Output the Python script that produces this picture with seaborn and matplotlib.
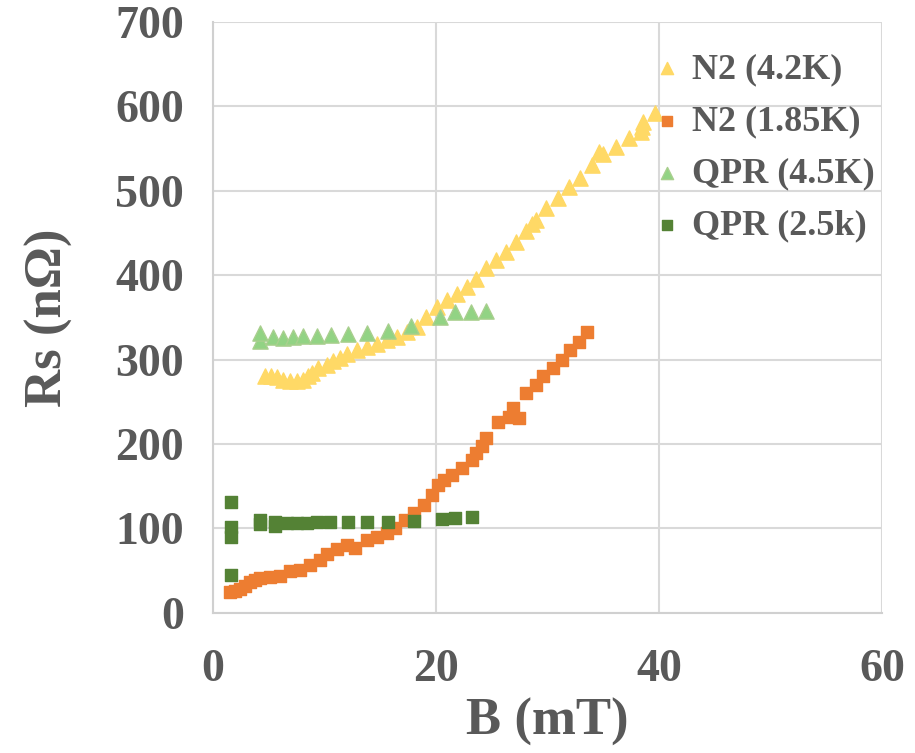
import numpy as np
import pandas as pd
import matplotlib
matplotlib.use("Agg")
import matplotlib.pyplot as plt
import seaborn as sns

# N2 (4.2K)
n2_42_B = [4.7, 5.2, 5.7, 6.3, 6.9, 7.5, 8.1, 8.5, 8.9, 9.4, 10.2, 10.8, 11.4, 12.0, 12.9,
           13.8, 14.7, 15.6, 16.5, 17.4, 18.3, 19.1, 20.1, 21.0, 21.9, 22.8, 23.6, 24.5,
           25.4, 26.3, 27.2, 28.1, 28.6, 29.0, 29.9, 30.9, 31.9, 32.9, 34.0, 34.6, 35.0,
           36.1, 37.3, 38.4, 38.5, 38.6, 39.6]
n2_42_R = [281, 280, 279, 276, 275, 275, 276, 280, 284, 290, 294, 298, 302, 306, 311,
           315, 319, 323, 327, 333, 339, 350, 362, 370, 378, 386, 396, 408,
           418, 428, 439, 452, 461, 465, 479, 491, 505, 515, 530, 546, 544,
           552, 562, 570, 575, 581, 592]

# N2 (1.85K)
n2_185_B = [1.5, 2.0, 2.4, 2.9, 3.3, 3.8, 4.2, 5.1, 6.0, 6.9, 7.8, 8.7, 9.6, 10.2, 11.1,
            12.0, 12.7, 13.8, 14.7, 15.6, 16.3, 17.2, 18.0, 18.9, 19.6, 20.2, 20.7, 21.4,
            22.3, 23.2, 23.6, 24.1, 24.5, 25.6, 26.5, 26.9, 27.4, 28.1, 29.0, 29.6, 30.5,
            31.3, 32.0, 32.8, 33.5]
n2_185_R = [25, 26, 28, 32, 36, 39, 41, 42, 44, 49, 51, 57, 63, 70, 76,
            80, 77, 86, 90, 94, 100, 110, 118, 128, 139, 151, 157, 163,
            171, 181, 189, 197, 207, 226, 232, 242, 231, 260, 270, 280, 290,
            299, 311, 321, 333]

# QPR (4.5K)
qpr_45_B = [4.2, 4.2, 5.4, 6.3, 7.2, 8.1, 9.3, 10.6, 12.1, 13.8, 15.7, 17.8, 20.4, 21.7, 23.1, 24.5]
qpr_45_R = [322, 331, 327, 326, 327, 328, 328, 329, 330, 331, 334, 340, 350, 356, 356, 357]

# QPR (2.5k)
qpr_25_B = [1.6, 1.6, 1.6, 1.6, 4.2, 4.2, 5.6, 5.6, 6.6, 7.5, 8.4, 9.3, 10.5, 12.1, 13.8, 15.7, 18.0, 20.5, 21.7, 23.2]
qpr_25_R = [131, 102, 90, 45, 110, 105, 108, 103, 106, 106, 106, 107, 108, 108, 108, 108, 109, 111, 112, 114]

labels = ["N2 (4.2K)", "N2 (1.85K)", "QPR (4.5K)", "QPR (2.5k)"]
x_ticks = [0, 20, 40, 60]
y_ticks = [0, 100, 200, 300, 400, 500, 600, 700]

frames = []
for lab, b, r in zip(labels, [n2_42_B, n2_185_B, qpr_45_B, qpr_25_B],
                     [n2_42_R, n2_185_R, qpr_45_R, qpr_25_R]):
    frames.append(pd.DataFrame({"B": b, "Rs": r, "series": lab}))
df = pd.concat(frames, ignore_index=True)

colors = {"N2 (4.2K)": "#FFD966", "N2 (1.85K)": "#ED7D31",
          "QPR (4.5K)": "#92D384", "QPR (2.5k)": "#548235"}
edges = {"N2 (4.2K)": "#FFD966", "N2 (1.85K)": "#ED7D31",
         "QPR (4.5K)": "#A9CF8E", "QPR (2.5k)": "#548235"}
markers = {"N2 (4.2K)": "^", "N2 (1.85K)": "s", "QPR (4.5K)": "^", "QPR (2.5k)": "s"}
sizes = {"N2 (4.2K)": 120, "N2 (1.85K)": 75, "QPR (4.5K)": 120, "QPR (2.5k)": 75}

sns.set_style("white")
plt.rcParams['font.family'] = ['Liberation Serif', 'DejaVu Serif']

fig = plt.figure(figsize=(9.15, 7.53), dpi=100)
ax = fig.add_axes([0.2328, 0.1863, 0.964 - 0.2328, 0.9708 - 0.1863])

for lab in labels:
    sub = df[df["series"] == lab]
    sns.scatterplot(data=sub, x="B", y="Rs", ax=ax, color=colors[lab],
                    marker=markers[lab], s=sizes[lab], edgecolor=edges[lab],
                    linewidth=1.0, label=lab, zorder=3)

ax.set_xlim(0, 60)
ax.set_ylim(0, 700)
ax.set_xticks(x_ticks)
ax.set_yticks(y_ticks)
ax.grid(True, color="#D9D9D9", linewidth=1.5, zorder=0)
ax.set_axisbelow(True)
for sp in ["top", "right"]:
    ax.spines[sp].set_visible(False)
for sp in ["left", "bottom"]:
    ax.spines[sp].set_color("#D0D0D0")
    ax.spines[sp].set_linewidth(1.5)

tc = "#595959"
ax.tick_params(axis="both", length=0, labelsize=33, labelcolor=tc)
ax.tick_params(axis="x", pad=26)
ax.tick_params(axis="y", pad=21)
for t in ax.get_xticklabels() + ax.get_yticklabels():
    t.set_fontweight("bold")
ax.set_xlabel("B (mT)", fontsize=38, fontweight="bold", color=tc, labelpad=5)
ax.set_ylabel("Rs (n\u03a9)", fontsize=38, fontweight="bold", color=tc, labelpad=30)

leg = ax.legend(loc="upper right", bbox_to_anchor=(1.035, 1.0), frameon=False,
                prop={"family": "Liberation Serif", "weight": "bold", "size": 26},
                labelcolor=tc, handlelength=0.7, handletextpad=0.35, labelspacing=0.52,
                markerscale=0.8, borderaxespad=0.45)

fig.savefig("out.png", dpi=100)
